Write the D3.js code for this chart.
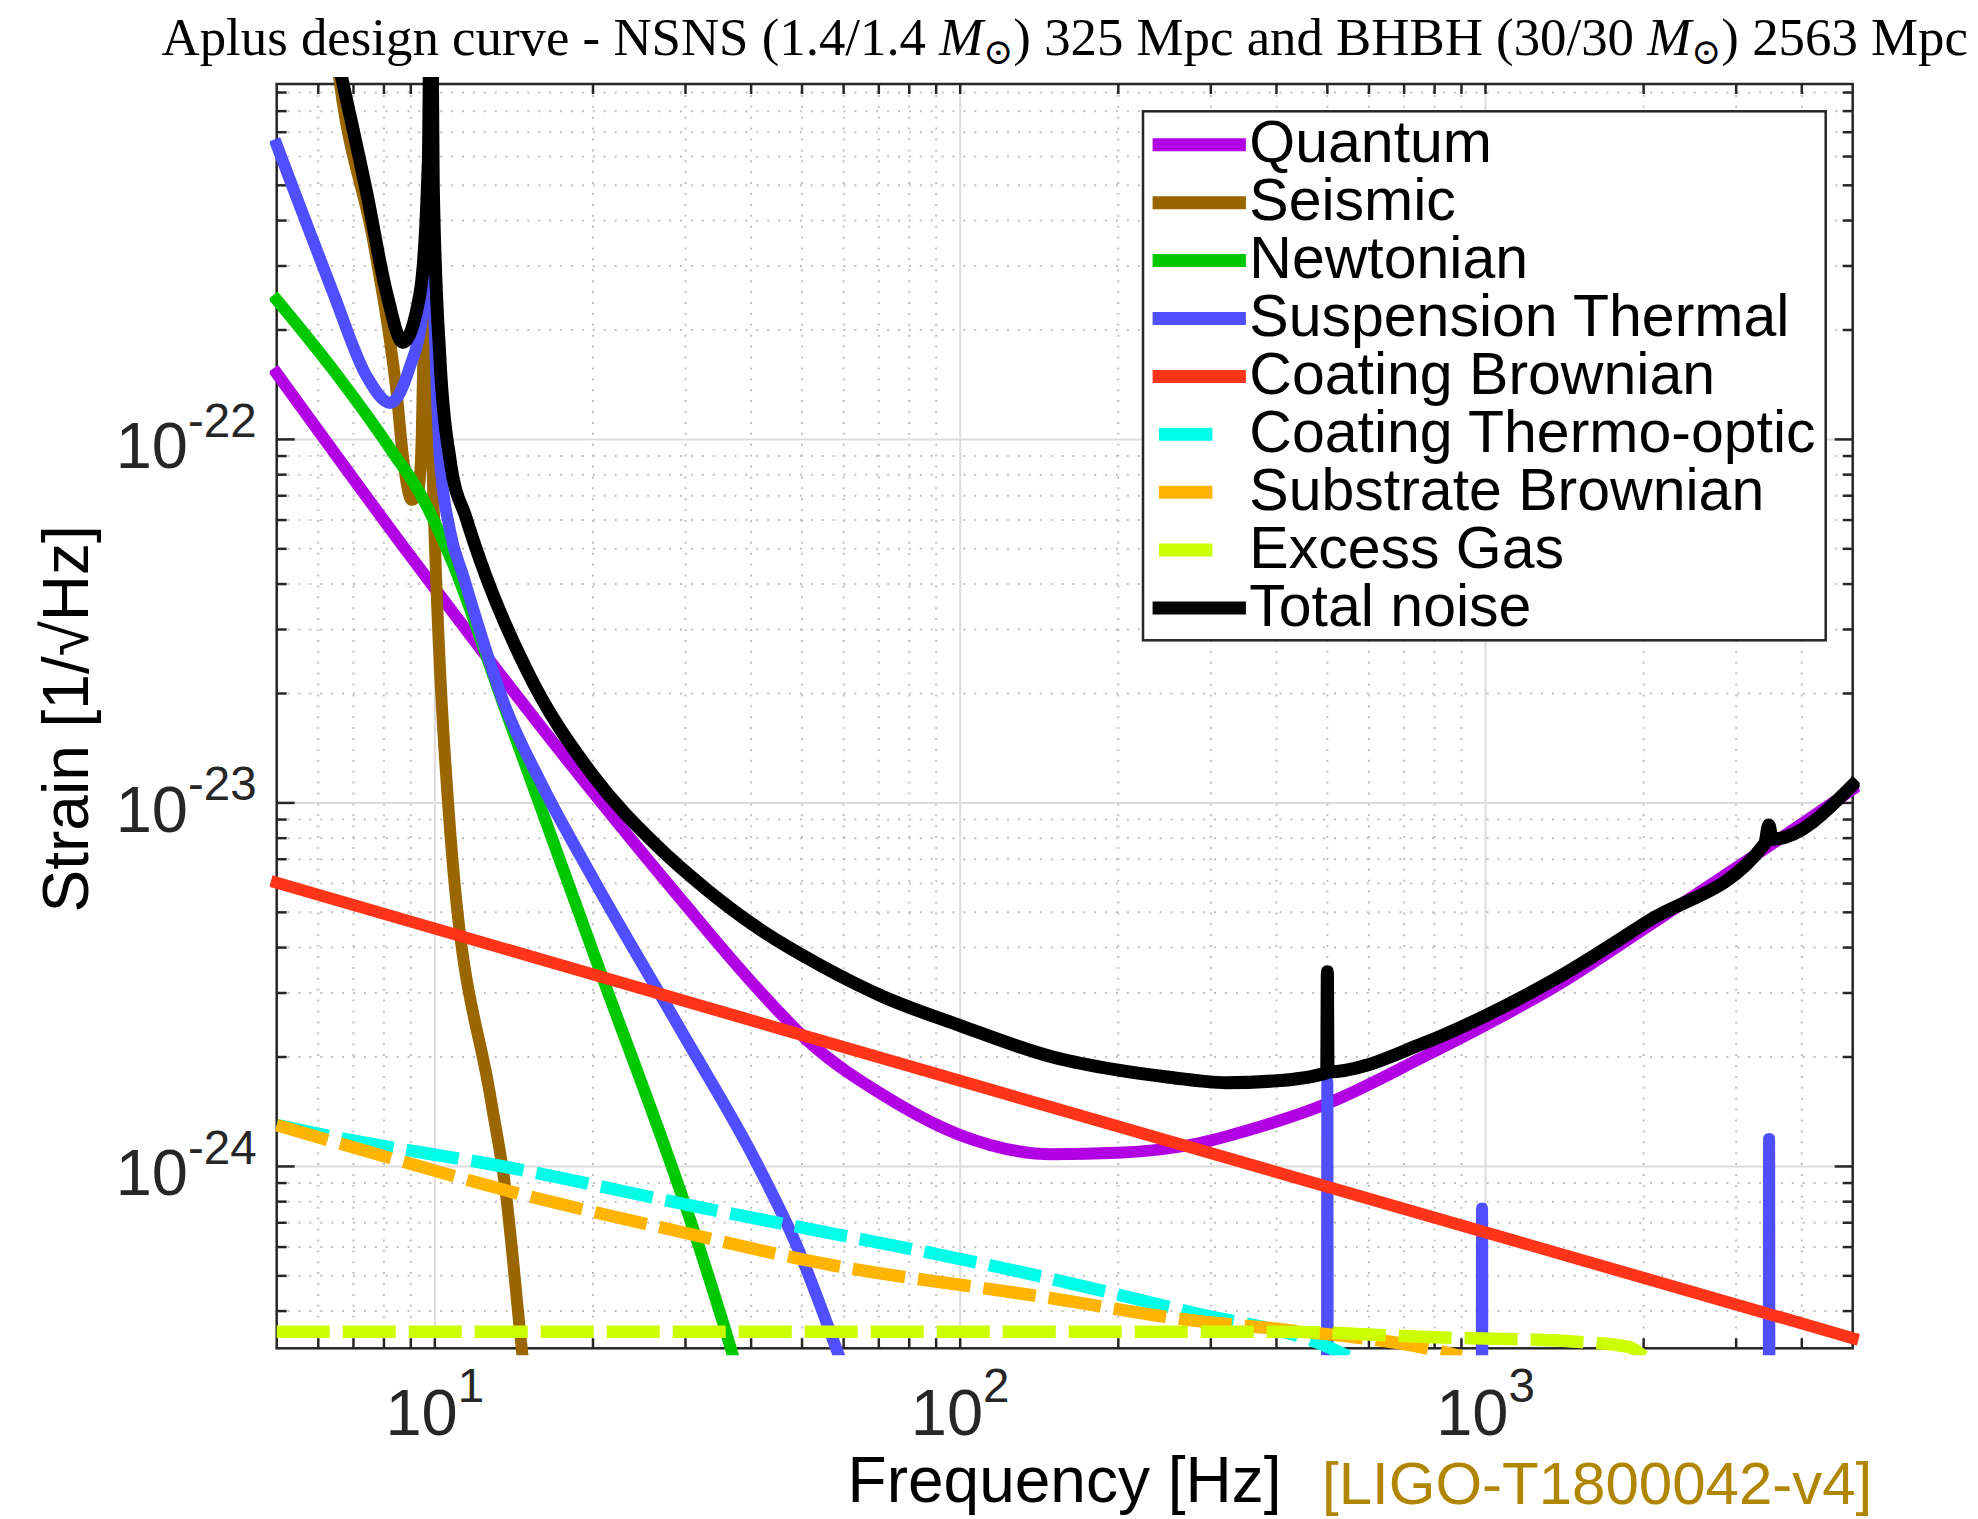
<!DOCTYPE html>
<html><head><meta charset="utf-8">
<script src="https://cdn.jsdelivr.net/npm/d3@7"></script>
<style>
html,body{margin:0;padding:0;background:#fff;}
svg{display:block;}
</style></head><body>
<svg id="chart" width="1978" height="1519"></svg>
<script>
// ---------- DATA (frequency [Hz], strain [1/sqrt(Hz)]) ----------
const quantum = [[5,1.52e-22],[9.1,4.66e-23],[20,1.07e-23],[29.5,5.4e-24],[41,3.1e-24],[51.2,2.22e-24],[71.4,1.57e-24],[100,1.22e-24],[150,1.08e-24],[200,1.09e-24],[286,1.16e-24],[348,1.25e-24],[500,1.49e-24],[761,2.0e-24],[1001,2.45e-24],[1369,3.15e-24],[2025,4.55e-24],[3436,7.55e-24],[5000,1.09e-23]];
const seismic = [[6.38,1.4e-21],[6.6,9.5e-22],[7.69,3.32e-22],[8.46,1.34e-22],[8.71,8.78e-23],[9.04,6.82e-23],[9.29,7.13e-23],[9.44,9.97e-23],[9.53,2.0e-22],[9.66,3.22e-22],[9.79,1.46e-22],[9.94,6.82e-23],[10.69,8.43e-24],[12.79,1.52e-24],[13.58,8.99e-25],[14.67,3.06e-25],[16,1.0e-25]];
const newtonian = [[5,2.42e-22],[6.41,1.55e-22],[8.34,9.16e-23],[9.37,7.11e-23],[10.69,4.76e-23],[13.5,1.87e-23],[20,3.9e-24],[32,5.88e-25],[36.9,3.03e-25],[40,2.0e-25]];
const suspensionThermal = [[5,6.46e-22],[5.54,4.37e-22],[6.41,2.52e-22],[7.42,1.49e-22],[8.22,1.26e-22],[8.97,1.59e-22],[9.44,2.13e-22],[9.75,3.77e-22],[10.23,8.78e-23],[10.69,5.6e-23],[11.33,4.2e-23],[13.6,1.85e-23],[16,1.12e-23],[20,6.2e-24],[29.5,2.35e-24],[41,1.02e-24],[49.1,5.95e-25],[58.7,3.03e-25],[70,1.5e-25],[498.5,1e-26],[500,1.71e-24],[501.5,1e-26],[982,1e-26],[985,7.66e-25],[988,1e-26],[3455,1e-26],[3466,1.19e-24],[3477,1e-26],[5000,1e-26]];
const coatingBrownian = [[5,6.03e-24],[100,1.72e-24],[5000,3.37e-25]];
const coatingThermoOptic = [[5,1.30e-24],[6.33,1.21e-24],[13.58,9.98e-25],[30.3,7.84e-25],[143.4,4.97e-25],[272.8,3.98e-25],[500.6,3.19e-25],[548,3.0e-25]];
const substrateBrownian = [[5,1.30e-24],[8.32,1.05e-24],[13.58,8.61e-25],[30.3,6.54e-25],[50.9,5.52e-25],[143.4,4.38e-25],[272.8,3.78e-25],[418.7,3.55e-25],[796.8,3.13e-25],[900,3.0e-25]];
const excessGas = [[5,3.51e-25],[404,3.51e-25],[797,3.39e-25],[1462,3.30e-25],[1876,3.19e-25],[2000,3.0e-25]];
const totalNoise = [[6.4,1.27e-21],[6.65,9.87e-22],[7.42,4.76e-22],[8.1,2.52e-22],[8.69,1.85e-22],[9.37,2.52e-22],[9.72,5.87e-22],[9.83,3e-21],[9.93,5e-22],[10.23,1.65e-22],[10.69,8.78e-23],[11.5,6.01e-23],[12.19,4.66e-23],[15,2.3e-23],[20,1.19e-23],[26.4,7.65e-24],[32.9,5.78e-24],[41,4.55e-24],[54.1,3.58e-24],[71.4,2.93e-24],[100,2.44e-24],[150,2.0e-24],[200,1.84e-24],[250,1.76e-24],[320,1.70e-24],[400,1.72e-24],[498.5,1.81e-24],[500,3.43e-24],[501.5,1.82e-24],[761,2.18e-24],[1001,2.6e-24],[1369,3.3e-24],[2025,4.7e-24],[3400,7.72e-24],[3460,8.7e-24],[3520,7.95e-24],[5000,1.12e-23]];

const seriesNames = ["Quantum","Seismic","Newtonian","Suspension Thermal","Coating Brownian","Coating Thermo-optic","Substrate Brownian","Excess Gas","Total noise"];
const seriesData = [quantum,seismic,newtonian,suspensionThermal,coatingBrownian,coatingThermoOptic,substrateBrownian,excessGas,totalNoise];

const xDomain = [5,5000];
const yDomain = [3.16e-25,9.5e-22];
const xMajorTicks = [10,100,1000];
const xTickExponents = ["1","2","3"];
const yMajorTicks = [1e-24,1e-23,1e-22];
const yTickExponents = ["-24","-23","-22"];
const xMinorTicks = [6,7,8,9,20,30,40,50,60,70,80,90,200,300,400,500,600,700,800,900,2000,3000,4000];
const yMinorTicks = [4e-25,5e-25,6e-25,7e-25,8e-25,9e-25,2e-24,3e-24,4e-24,5e-24,6e-24,7e-24,8e-24,9e-24,2e-23,3e-23,4e-23,5e-23,6e-23,7e-23,8e-23,9e-23,2e-22,3e-22,4e-22,5e-22,6e-22,7e-22,8e-22,9e-22];

const titleParts = ["Aplus design curve - NSNS (1.4/1.4 ", ") 325 Mpc and BHBH (30/30 ", ") 2563 Mpc"];
const xLabel = "Frequency [Hz]";
const yLabel = "Strain [1/\u221AHz]";
const docLabel = "[LIGO-T1800042-v4]";

// ---------- STYLE ----------
const styles = [
  {color:"#B000E3", dashed:false, width:12},
  {color:"#996600", dashed:false, width:12},
  {color:"#00C800", dashed:false, width:12},
  {color:"#4F4FFF", dashed:false, width:12},
  {color:"#FF3419", dashed:false, width:12},
  {color:"#00FFE6", dashed:true, width:12.5},
  {color:"#FFB400", dashed:true, width:12.5},
  {color:"#CCFF00", dashed:true, width:12.5},
  {color:"#000000", dashed:false, width:13}
];
const sansFont = "'Liberation Sans', Arial, Helvetica, sans-serif";
const axisColor = "#262626";
const M = {left:276.7, right:1852.7, top:84, bottom:1348.3};

const svg = d3.select("#chart");
const x = d3.scaleLog().domain(xDomain).range([M.left, M.right]);
const y = d3.scaleLog().domain(yDomain).range([M.bottom, M.top]);

// ---------- GRID ----------
const grid = svg.append("g");
grid.selectAll(".vminor").data(xMinorTicks).enter().append("line")
  .attr("x1",d=>x(d)).attr("x2",d=>x(d)).attr("y1",M.top).attr("y2",M.bottom)
  .attr("stroke","#bfbfbf").attr("stroke-width",2).attr("stroke-dasharray","2,8.9");
grid.selectAll(".hminor").data(yMinorTicks).enter().append("line")
  .attr("y1",d=>y(d)).attr("y2",d=>y(d)).attr("x1",M.left).attr("x2",M.right)
  .attr("stroke","#bfbfbf").attr("stroke-width",2).attr("stroke-dasharray","2,8.9");
grid.selectAll(".vmajor").data(xMajorTicks).enter().append("line")
  .attr("x1",d=>x(d)).attr("x2",d=>x(d)).attr("y1",M.top).attr("y2",M.bottom)
  .attr("stroke","#dcdcdc").attr("stroke-width",2);
grid.selectAll(".hmajor").data(yMajorTicks).enter().append("line")
  .attr("y1",d=>y(d)).attr("y2",d=>y(d)).attr("x1",M.left).attr("x2",M.right)
  .attr("stroke","#dcdcdc").attr("stroke-width",2);

// ---------- AXES BOX & TICKS ----------
const ax = svg.append("g").attr("stroke",axisColor).attr("stroke-width",2.5);
ax.append("rect").attr("x",M.left).attr("y",M.top).attr("width",M.right-M.left).attr("height",M.bottom-M.top).attr("fill","none");
const xt = xMinorTicks.map(v=>({v,len:10})).concat(xMajorTicks.map(v=>({v,len:10})));
xt.forEach(t=>{
  ax.append("line").attr("x1",x(t.v)).attr("x2",x(t.v)).attr("y1",M.bottom).attr("y2",M.bottom-t.len);
  ax.append("line").attr("x1",x(t.v)).attr("x2",x(t.v)).attr("y1",M.top).attr("y2",M.top+t.len);
});
const yt = yMinorTicks.map(v=>({v,len:10})).concat(yMajorTicks.map(v=>({v,len:18})));
yt.forEach(t=>{
  ax.append("line").attr("y1",y(t.v)).attr("y2",y(t.v)).attr("x1",M.left).attr("x2",M.left+t.len);
  ax.append("line").attr("y1",y(t.v)).attr("y2",y(t.v)).attr("x1",M.right).attr("x2",M.right-t.len);
});

// tick labels
const tl = svg.append("g").attr("font-family",sansFont).attr("fill","#262626");
xMajorTicks.forEach((v,i)=>{
  const t = tl.append("text").attr("x",x(v)).attr("y",M.bottom+86.7).attr("text-anchor","middle");
  t.append("tspan").attr("font-size",65).text("10");
  t.append("tspan").attr("font-size",47.5).attr("dy",-33.3).text(xTickExponents[i]);
});
yMajorTicks.forEach((v,i)=>{
  const t = tl.append("text").attr("x",M.left-20).attr("y",y(v)+29).attr("text-anchor","end");
  t.append("tspan").attr("font-size",65).text("10");
  t.append("tspan").attr("font-size",47.5).attr("dy",-31.6).text(yTickExponents[i]);
});

// ---------- CURVES ----------
svg.append("defs").append("clipPath").attr("id","plotclip").append("rect")
  .attr("x",M.left-7).attr("y",M.top-7).attr("width",M.right-M.left+14).attr("height",M.bottom-M.top+14);
const line = d3.line().x(d=>x(d[0])).y(d=>y(d[1])).curve(d3.curveMonotoneX);
const curves = svg.append("g").attr("clip-path","url(#plotclip)");
seriesData.forEach((data,i)=>{
  const s = styles[i];
  curves.append("path").datum(data).attr("d",line)
    .attr("fill","none").attr("stroke",s.color).attr("stroke-width",s.width)
    .attr("stroke-linecap", s.dashed ? "butt" : "square")
    .attr("stroke-dasharray", s.dashed ? "53,13" : null);
});

// ---------- LEGEND ----------
const lg = svg.append("g");
lg.append("rect").attr("x",1143).attr("y",111.3).attr("width",682.7).attr("height",529)
  .attr("fill","#fff").attr("stroke",axisColor).attr("stroke-width",2.5);
const legendText = lg.append("text").attr("font-family",sansFont).attr("font-size",59).attr("fill","#000");
seriesNames.forEach((name,i)=>{
  const ry = 144.8 + i*57.9;
  const s = styles[i];
  lg.append("line").attr("x1", s.dashed?1158.9:1152.6).attr("x2", s.dashed?1212.4:1245.9)
    .attr("y1",ry).attr("y2",ry).attr("stroke",s.color).attr("stroke-width",13);
  legendText.append("tspan").attr("x",1249.3).attr("y",ry+17.5).text(name);
});

// ---------- LABELS ----------
const title = svg.append("text").attr("x",(M.left+M.right)/2).attr("y",55).attr("text-anchor","middle")
  .attr("font-family","'Liberation Serif','DejaVu Serif',serif").attr("font-size",50).attr("fill","#000");
title.append("tspan").text(titleParts[0]);
title.append("tspan").attr("font-style","italic").text("M");
title.append("tspan").attr("font-size",34).attr("dy",9).text("\u2299");
title.append("tspan").attr("dy",-9).text(titleParts[1]);
title.append("tspan").attr("font-style","italic").text("M");
title.append("tspan").attr("font-size",34).attr("dy",9).text("\u2299");
title.append("tspan").attr("dy",-9).text(titleParts[2]);
const tw = title.node().getComputedTextLength();
title.attr("font-size", 50*1807/tw);
title.selectAll("tspan").filter(function(){return this.getAttribute("font-size");})
  .attr("font-size", 34*1807/tw);

svg.append("text").attr("x",1064.5).attr("y",1501.7).attr("text-anchor","middle")
  .attr("font-family",sansFont).attr("font-size",64).attr("fill","#000").text(xLabel);
svg.append("text").attr("transform","translate(88.3,718.8) rotate(-90)").attr("text-anchor","middle")
  .attr("font-family",sansFont).attr("font-size",64).attr("fill","#000").text(yLabel);
svg.append("text").attr("x",1322).attr("y",1504).attr("font-family",sansFont)
  .attr("font-size",60).attr("fill","#B08500").text(docLabel);
</script>
</body></html>
